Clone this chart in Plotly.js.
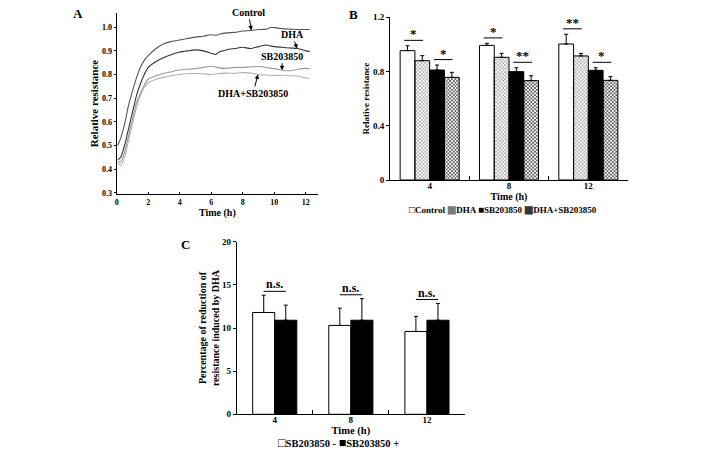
<!DOCTYPE html>
<html>
<head>
<meta charset="utf-8">
<script src="https://cdn.plot.ly/plotly-3.0.1.min.js"></script>
<style>html,body{margin:0;padding:0;background:#fff;}#chart{width:708px;height:450px;}</style>
</head>
<body>
<div id="chart"></div>
<script>
// ---------- Panel A: time courses ----------
const timeA = [0.06, 0.25, 0.5, 0.75, 1.0, 1.25, 1.5, 1.75, 2.0, 2.5, 3.0, 3.5, 4.0, 4.5, 5.0, 5.5, 6.0, 6.3, 6.5, 7.0, 7.5, 8.0, 8.5, 9.0, 9.5, 9.8, 10.0, 10.5, 11.0, 11.5, 12.0, 12.25];
const controlA = [0.50, 0.53, 0.59, 0.67, 0.73, 0.785, 0.83, 0.86, 0.88, 0.91, 0.93, 0.94, 0.946, 0.952, 0.958, 0.962, 0.968, 0.966, 0.97, 0.976, 0.978, 0.984, 0.986, 0.99, 0.992, 1.0, 0.998, 0.994, 0.992, 0.99, 0.99, 0.99];
const dhaA = [0.44, 0.45, 0.50, 0.57, 0.64, 0.71, 0.76, 0.80, 0.83, 0.855, 0.872, 0.885, 0.895, 0.90, 0.904, 0.90, 0.89, 0.885, 0.895, 0.905, 0.91, 0.915, 0.91, 0.918, 0.925, 0.92, 0.918, 0.915, 0.912, 0.91, 0.90, 0.898];
const sbA = [0.435, 0.43, 0.47, 0.54, 0.61, 0.68, 0.72, 0.755, 0.78, 0.795, 0.805, 0.812, 0.82, 0.822, 0.825, 0.83, 0.835, 0.832, 0.828, 0.826, 0.83, 0.83, 0.832, 0.834, 0.83, 0.826, 0.825, 0.818, 0.816, 0.822, 0.826, 0.825];
const dhaSbA = [0.43, 0.415, 0.45, 0.52, 0.59, 0.66, 0.71, 0.745, 0.765, 0.78, 0.788, 0.795, 0.80, 0.803, 0.804, 0.803, 0.80, 0.802, 0.804, 0.806, 0.805, 0.808, 0.806, 0.80, 0.798, 0.796, 0.796, 0.797, 0.795, 0.794, 0.785, 0.782];
const namesA = ['Control', 'DHA', 'SB203850', 'DHA+SB203850'];
const tickValsA_x = [0, 2, 4, 6, 8, 10, 12];
const tickValsA_y = [0.3, 0.4, 0.5, 0.6, 0.7, 0.8, 0.9, 1.0];
const labelTimesA = [8.55, 11.45, 10.5, 8.97];

// ---------- Panel B: grouped bars ----------
const timesB = ['4', '8', '12'];
const controlB = [0.954, 0.993, 1.003];
const controlErrB = [0.036, 0.015, 0.072];
const dhaB = [0.880, 0.905, 0.915];
const dhaErrB = [0.037, 0.029, 0.019];
const sbB = [0.811, 0.799, 0.809];
const sbErrB = [0.037, 0.029, 0.019];
const dhaSbB = [0.757, 0.733, 0.735];
const dhaSbErrB = [0.037, 0.036, 0.027];
const namesB = ['Control', 'DHA', 'SB203850', 'DHA+SB203850'];
const sigGroupB = [0, 0, 1, 1, 2, 2];
const sigFirstB = [0, 2, 0, 2, 0, 2];
const sigSecondB = [1, 3, 1, 3, 1, 3];
const sigLabelB = ['*', '*', '*', '**', '**', '*'];
const tickValsB_y = [0, 0.4, 0.8, 1.2];
const tickTextB_y = ['0', '0.4', '0.8', '1.2'];

// ---------- Panel C ----------
const timesC = ['4', '8', '12'];
const sbMinusC = [11.8, 10.3, 9.6];
const sbMinusErrC = [2.0, 2.0, 1.75];
const sbPlusC = [10.9, 10.9, 10.9];
const sbPlusErrC = [1.75, 2.5, 1.95];
const namesC = ['SB203850 -', 'SB203850 +'];
const sigLabelC = ['n.s.', 'n.s.', 'n.s.'];

const FONT = 'Liberation Serif, Times New Roman, serif';
const W = 708, H = 450;
const px = v => v / W, py = v => 1 - v / H;

function valAt(xs, ys, t) {
  for (let i = 0; i < xs.length - 1; i++) {
    if (t >= xs[i] && t <= xs[i + 1]) {
      const f = (t - xs[i]) / (xs[i + 1] - xs[i]);
      return ys[i] + f * (ys[i + 1] - ys[i]);
    }
  }
  return ys[ys.length - 1];
}

const traces = [];
const seriesA = [controlA, dhaA, sbA, dhaSbA];
const colorsA = ['#555', '#333', '#9a9a9a', '#b0b0b0'];
seriesA.forEach((s, i) => {
  traces.push({type: 'scatter', mode: 'lines', x: timeA, y: s, name: namesA[i],
    xaxis: 'x', yaxis: 'y', line: {color: colorsA[i], width: 1.1, shape: 'spline', smoothing: 0.6}, showlegend: false, hoverinfo: 'skip'});
});

// B bars
const wB = 0.186;
const valsB = [controlB, dhaB, sbB, dhaSbB];
const errsB = [controlErrB, dhaErrB, sbErrB, dhaSbErrB];
const markersB = [
  {color: '#ffffff', line: {color: '#000', width: 1}},
  {color: '#d0d0d0', line: {color: '#000', width: 1}, pattern: {shape: 'x', fgcolor: '#888', size: 2.5, solidity: 0.4}},
  {color: '#000000', line: {color: '#000', width: 1}},
  {color: '#6a6a6a', line: {color: '#000', width: 1}, pattern: {shape: 'x', fgcolor: '#222', size: 2.5, solidity: 0.45}}
];
valsB.forEach((v, i) => {
  traces.push({type: 'bar', x: timesB, y: v, name: namesB[i], xaxis: 'x2', yaxis: 'y2',
    width: wB, offset: -2 * wB + i * wB, marker: markersB[i], showlegend: false,
    error_y: {type: 'data', symmetric: false, array: errsB[i], arrayminus: [0, 0, 0], color: '#000', thickness: 1, width: 2}});
});

// C bars
const wC = 0.29;
const valsC = [sbMinusC, sbPlusC];
const errsC = [sbMinusErrC, sbPlusErrC];
const colorsC = ['#ffffff', '#000000'];
valsC.forEach((v, i) => {
  traces.push({type: 'bar', x: timesC, y: v, name: namesC[i], xaxis: 'x3', yaxis: 'y3',
    width: wC, offset: -wC + i * wC, marker: {color: colorsC[i], line: {color: '#000', width: 1}}, showlegend: false,
    error_y: {type: 'data', symmetric: false, array: errsC[i], arrayminus: [0, 0, 0], color: '#000', thickness: 1, width: 2}});
});

const shapes = [];
const annotations = [];

// significance brackets B (computed from the data)
sigGroupB.forEach((g, k) => {
  const a = sigFirstB[k], b = sigSecondB[k];
  const ca = g - 2 * wB + a * wB + wB / 2;
  const cb = g - 2 * wB + b * wB + wB / 2;
  const top = Math.max(valsB[a][g] + errsB[a][g], valsB[b][g] + errsB[b][g]) + 0.04;
  shapes.push({type: 'line', xref: 'x2', yref: 'y2', x0: ca - 0.04, x1: cb + 0.01, y0: top, y1: top, line: {color: '#000', width: 1}});
  annotations.push({xref: 'x2', yref: 'y2', x: (ca + cb) / 2 - 0.015, y: top, text: sigLabelB[k], showarrow: false,
    yanchor: 'bottom', yshift: -3, font: {size: 13, family: FONT, color: '#000'}});
});

// n.s. brackets C
sigLabelC.forEach((lab, g) => {
  const ca = g - wC / 2, cb = g + wC / 2;
  const top = Math.max(sbMinusC[g] + sbMinusErrC[g], sbPlusC[g] + sbPlusErrC[g]) + 0.45;
  shapes.push({type: 'line', xref: 'x3', yref: 'y3', x0: ca, x1: cb, y0: top, y1: top, line: {color: '#000', width: 1}});
  annotations.push({xref: 'x3', yref: 'y3', x: g, y: top, text: '<b>' + lab + '</b>', showarrow: false,
    yanchor: 'bottom', yshift: -2, font: {size: 12, family: FONT, color: '#000'}});
});

// panel A curve labels with arrows
const arrowOffsets = [[-3, -18], [-5, -14], [0, -14], [-5, 19]];
seriesA.forEach((s, i) => {
  const t = labelTimesA[i];
  annotations.push({xref: 'x', yref: 'y', x: t, y: valAt(timeA, s, t), text: '<b>' + namesA[i] + '</b>',
    showarrow: true, arrowhead: 2, arrowsize: 0.9, arrowwidth: 1, arrowcolor: '#000', standoff: 0,
    ax: arrowOffsets[i][0], ay: arrowOffsets[i][1], font: {size: 10, family: FONT, color: '#000'}});
});

// panel letters
[['A', 78, 14], ['B', 353, 15], ['C', 185, 245]].forEach(p => {
  annotations.push({xref: 'paper', yref: 'paper', x: px(p[1]), y: py(p[2]), text: '<b>' + p[0] + '</b>',
    showarrow: false, xanchor: 'center', yanchor: 'middle', font: {size: 13, family: FONT, color: '#000'}});
});

// legends (text with box glyphs)
const box = (ch, col, sz) => `<span style="color:${col};font-size:${sz}px">${ch}</span>`;
annotations.push({xref: 'paper', yref: 'paper', x: px(503), y: py(209), showarrow: false, xanchor: 'center', yanchor: 'middle',
  text: '<b>' + box('□', '#000', 10) + namesB[0] + ' ' + box('▩', '#777', 10) + namesB[1] + ' ' + box('■', '#000', 10) + namesB[2] + ' ' + box('▩', '#333', 10) + namesB[3] + '</b>',
  font: {size: 9, family: FONT, color: '#000'}});
annotations.push({xref: 'paper', yref: 'paper', x: px(338), y: py(442.5), showarrow: false, xanchor: 'center', yanchor: 'middle',
  text: '<b>' + box('□', '#000', 12.5) + namesC[0] + ' ' + box('■', '#000', 12.5) + namesC[1] + '</b>',
  font: {size: 10.5, family: FONT, color: '#000'}});

const axBase = {showline: true, linecolor: '#000', linewidth: 1, showgrid: false, zeroline: false,
  ticks: 'outside', ticklen: 3, tickcolor: '#000', automargin: false, fixedrange: true};

const layout = {
  width: W, height: H,
  margin: {l: 0, r: 0, t: 0, b: 0},
  paper_bgcolor: '#fff', plot_bgcolor: 'rgba(0,0,0,0)',
  font: {family: FONT, color: '#000', size: 9, weight: 'bold'},
  showlegend: false,
  bargap: 0,
  xaxis: Object.assign({}, axBase, {domain: [px(116.7), px(318)], range: [0, 12.78], tickvals: tickValsA_x,
    ticks: 'inside', ticklen: 2, tickfont: {size: 8, weight: 'bold'}, anchor: 'y',
    title: {text: 'Time (h)', font: {size: 10, weight: 'bold'}, standoff: 2}}),
  yaxis: Object.assign({}, axBase, {domain: [py(194), py(13)], range: [0.295, 1.06], tickvals: tickValsA_y, tickformat: '.1f',
    ticklen: 2, tickfont: {size: 8, weight: 'bold'}, anchor: 'x',
    title: {text: 'Relative resistance', font: {size: 11, weight: 'bold'}, standoff: 1}}),
  xaxis2: Object.assign({}, axBase, {domain: [px(390), px(628)], type: 'category', range: [-0.5, 2.5],
    tickson: 'boundaries', ticks: 'inside', ticklen: 4, tickfont: {size: 9, weight: 'bold'}, anchor: 'y2',
    ticklabelstandoff: -3,
    title: {text: 'Time (h)', font: {size: 10, weight: 'bold'}, standoff: 0}}),
  yaxis2: Object.assign({}, axBase, {domain: [py(180), py(17.3)], range: [0, 1.2], tickvals: tickValsB_y, ticktext: tickTextB_y,
    tickfont: {size: 9, weight: 'bold'}, anchor: 'x2',
    title: {text: 'Relative resistance', font: {size: 9, weight: 'bold'}, standoff: 1}}),
  xaxis3: Object.assign({}, axBase, {domain: [px(236.7), px(465)], type: 'category', range: [-0.5, 2.5],
    tickson: 'boundaries', ticks: 'inside', ticklen: 4, tickfont: {size: 9, weight: 'bold'}, anchor: 'y3',
    ticklabelstandoff: -3,
    title: {text: 'Time (h)', font: {size: 10.5, weight: 'bold'}, standoff: 0}}),
  yaxis3: Object.assign({}, axBase, {domain: [py(414.3), py(241.7)], range: [0, 20], dtick: 5,
    tickfont: {size: 9, weight: 'bold'}, anchor: 'x3',
    title: {text: 'Percentage of reduction of<br>resistance induced by DHA', font: {size: 10, weight: 'bold'}, standoff: 0}}),
  shapes: shapes,
  annotations: annotations
};

Plotly.newPlot('chart', traces, layout, {staticPlot: true, displayModeBar: false});
</script>
</body>
</html>
